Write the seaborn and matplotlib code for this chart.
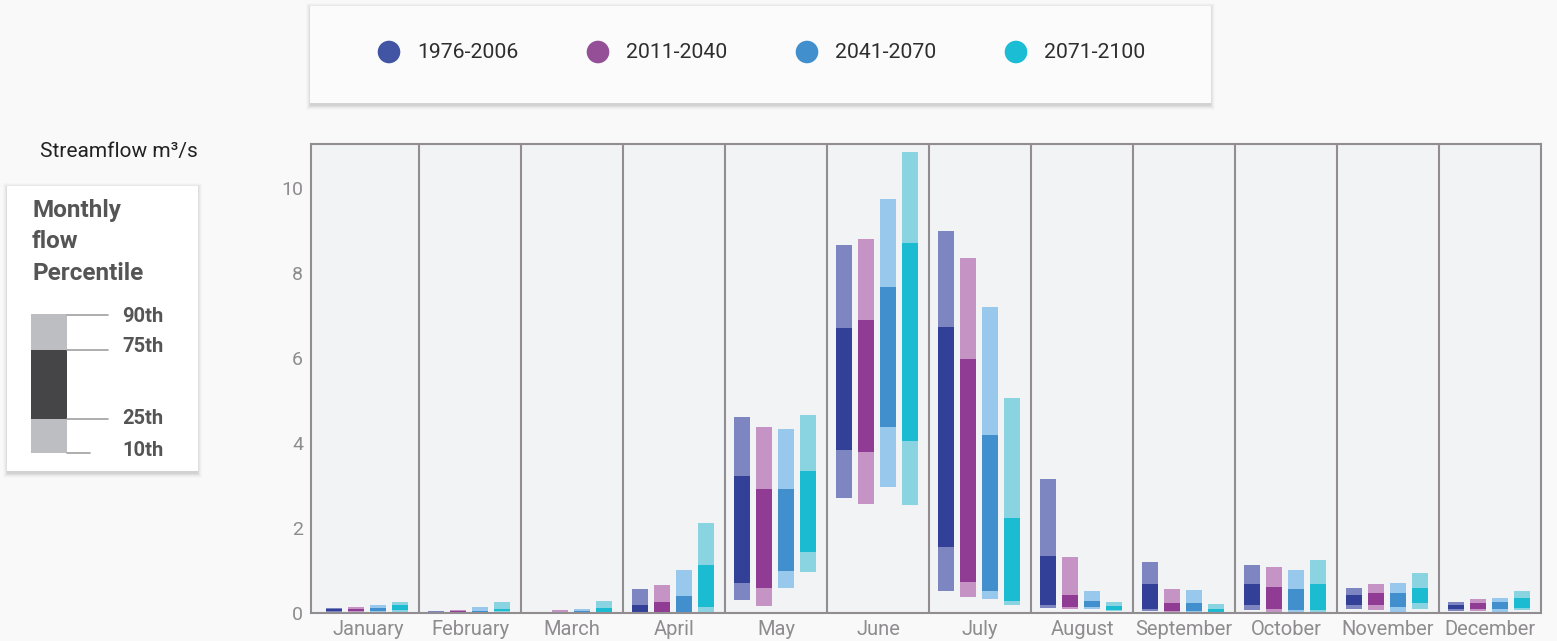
import numpy as np
import matplotlib
matplotlib.use("Agg")
import matplotlib.pyplot as plt
from matplotlib.patches import Rectangle, Circle
import seaborn as sns

# Monthly streamflow percentiles (m3/s), one row per period
months = ["January", "February", "March", "April", "May", "June",
          "July", "August", "September", "October", "November", "December"]
periods = ["1976-2006", "2011-2040", "2041-2070", "2071-2100"]

p90 = [[0.12, 0.05, 0.03, 0.57, 4.61, 8.65, 8.98, 3.16, 1.21, 1.13, 0.60, 0.27],
       [0.14, 0.07, 0.07, 0.665, 4.38, 8.79, 8.35, 1.33, 0.57, 1.08, 0.69, 0.34],
       [0.19, 0.14, 0.10, 1.02, 4.33, 9.73, 7.20, 0.53, 0.55, 1.01, 0.71, 0.36],
       [0.26, 0.26, 0.30, 2.12, 4.66, 10.84, 5.06, 0.27, 0.22, 1.25, 0.95, 0.53]]
p75 = [[0.09, 0.03, 0.02, 0.20, 3.22, 6.70, 6.72, 1.35, 0.69, 0.69, 0.43, 0.20],
       [0.10, 0.05, 0.04, 0.265, 2.92, 6.89, 5.98, 0.43, 0.24, 0.62, 0.48, 0.24],
       [0.13, 0.06, 0.05, 0.41, 2.92, 7.66, 4.19, 0.29, 0.24, 0.57, 0.48, 0.27],
       [0.19, 0.11, 0.12, 1.13, 3.34, 8.70, 2.24, 0.17, 0.10, 0.69, 0.60, 0.36]]
p25 = [[0.05, 0.02, 0.01, 0.01, 0.71, 3.84, 1.55, 0.20, 0.10, 0.20, 0.20, 0.10],
       [0.05, 0.03, 0.02, 0.01, 0.60, 3.79, 0.73, 0.15, 0.05, 0.10, 0.20, 0.10],
       [0.05, 0.04, 0.02, 0.04, 0.99, 4.37, 0.52, 0.15, 0.05, 0.08, 0.15, 0.10],
       [0.08, 0.05, 0.03, 0.15, 1.44, 4.05, 0.29, 0.08, 0.03, 0.08, 0.24, 0.13]]
p10 = [[0.03, 0.01, 0.005, 0.0, 0.31, 2.71, 0.52, 0.13, 0.05, 0.08, 0.10, 0.05],
       [0.03, 0.01, 0.01, 0.0, 0.16, 2.57, 0.38, 0.10, 0.02, 0.03, 0.08, 0.05],
       [0.02, 0.01, 0.01, 0.01, 0.60, 2.96, 0.33, 0.10, 0.02, 0.0, 0.03, 0.03],
       [0.03, 0.03, 0.01, 0.03, 0.97, 2.55, 0.19, 0.05, 0.01, 0.0, 0.10, 0.08]]

dark_colors = ["#324098", "#913C94", "#418FCD", "#1BBBD2"]
light_colors = ["#7E86C2", "#C694C4", "#98C8EC", "#8AD4E2"]
dot_colors = ["#4255A5", "#944F97", "#418FCD", "#1BBDD4"]

sns.set_theme(style="white")
plt.rcParams["font.family"] = ["Roboto", "DejaVu Sans"]

W, H = 1557, 641
fig = plt.figure(figsize=(W / 100, H / 100), dpi=100)
fig.patch.set_facecolor("#F9F9F9")

# overlay in pixel coordinates for the legend boxes
lax = fig.add_axes([0, 0, 1, 1], zorder=0)
lax.set_xlim(0, W)
lax.set_ylim(H, 0)
lax.axis("off")


def shadow_box(x0, y0, x1, y1, face):
    for k, a in [(5, 0.015), (4, 0.02), (3, 0.03), (2, 0.04), (1, 0.05)]:
        lax.add_patch(Rectangle((x0 - k + 1, y0 - k + 2), (x1 - x0) + 2 * k - 2,
                                (y1 - y0) + 2 * k, color="black", alpha=a, lw=0))
    lax.add_patch(Rectangle((x0, y0), x1 - x0, y1 - y0, facecolor=face, lw=0))


# top legend
shadow_box(310, 6, 1211, 103, "#FBFBFB")
for i, period in enumerate(periods):
    cx = 389 + i * 209
    lax.add_patch(Circle((cx, 52), 11.3, color=dot_colors[i], lw=0))
    lax.text(cx + 28, 53, period, fontsize=15.3, color="#2E2E2E", va="center", ha="left")

# left percentile key
lax.text(40, 151, "Streamflow m³/s", fontsize=15, color="#222222", va="center", ha="left")
shadow_box(7, 186, 198, 471, "#FFFFFF")
for line, yy in zip(["Monthly", "flow", "Percentile"], [210, 241, 273]):
    lax.text(32, yy, line, fontsize=17.5, color="#555555", fontweight="semibold",
             va="center", ha="left")
lax.add_patch(Rectangle((31, 314), 36, 139, facecolor="#BDBEC1", lw=0))
lax.add_patch(Rectangle((31, 350), 36, 69, facecolor="#454547", lw=0))
for yy, x_end, label, ty in [(315, 108, "90th", 317), (350, 108, "75th", 347),
                             (419, 108, "25th", 419), (453, 90, "10th", 451)]:
    lax.plot([67, x_end], [yy, yy], color="#A0A0A0", lw=1.2)
    lax.text(122, ty, label, fontsize=14.5, color="#555555", fontweight="bold",
             va="center", ha="left")

# main chart
ax = fig.add_axes([310.7 / W, 1 - 613.3 / H, (1541 - 310.7) / W, (613.3 - 144) / H], zorder=1)
ax.set_facecolor("#F2F3F5")

x = np.arange(len(months))
offsets = (np.arange(len(periods)) - 1.5) * 0.216 - 0.009
for i, period in enumerate(periods):
    pos = x + offsets[i]
    lo, q1, q3, hi = (np.array(a[i]) for a in (p10, p25, p75, p90))
    sns.barplot(x=pos, y=hi - lo, bottom=lo, native_scale=True, width=0.157,
                color=light_colors[i], saturation=1, errorbar=None,
                linewidth=0, edgecolor="none", ax=ax)
    sns.barplot(x=pos, y=q3 - q1, bottom=q1, native_scale=True, width=0.157,
                color=dark_colors[i], saturation=1, errorbar=None,
                linewidth=0, edgecolor="none", ax=ax)

for b in np.arange(0.5, len(months) - 0.5, 1):
    ax.axvline(b, color="#918D91", lw=1.5, zorder=3)
for s in ax.spines.values():
    s.set_visible(True)
    s.set_color("#918D91")
    s.set_linewidth(1.5)

ax.set_xlim(-0.562, 11.5)
ax.set_ylim(0, 11.03)
ax.set_xticks(x)
ax.set_xticklabels(months)
ax.set_yticks([0, 2, 4, 6, 8, 10])
ax.tick_params(axis="x", length=0, pad=4.5, labelsize=14.5, labelcolor="#8E8C8E")
ax.tick_params(axis="y", length=0, pad=5.5, labelsize=14, labelcolor="#8E8C8E")
ax.set_xlabel("")
ax.set_ylabel("")
ax.grid(False)

fig.savefig("out.png", dpi=100, facecolor=fig.get_facecolor())
